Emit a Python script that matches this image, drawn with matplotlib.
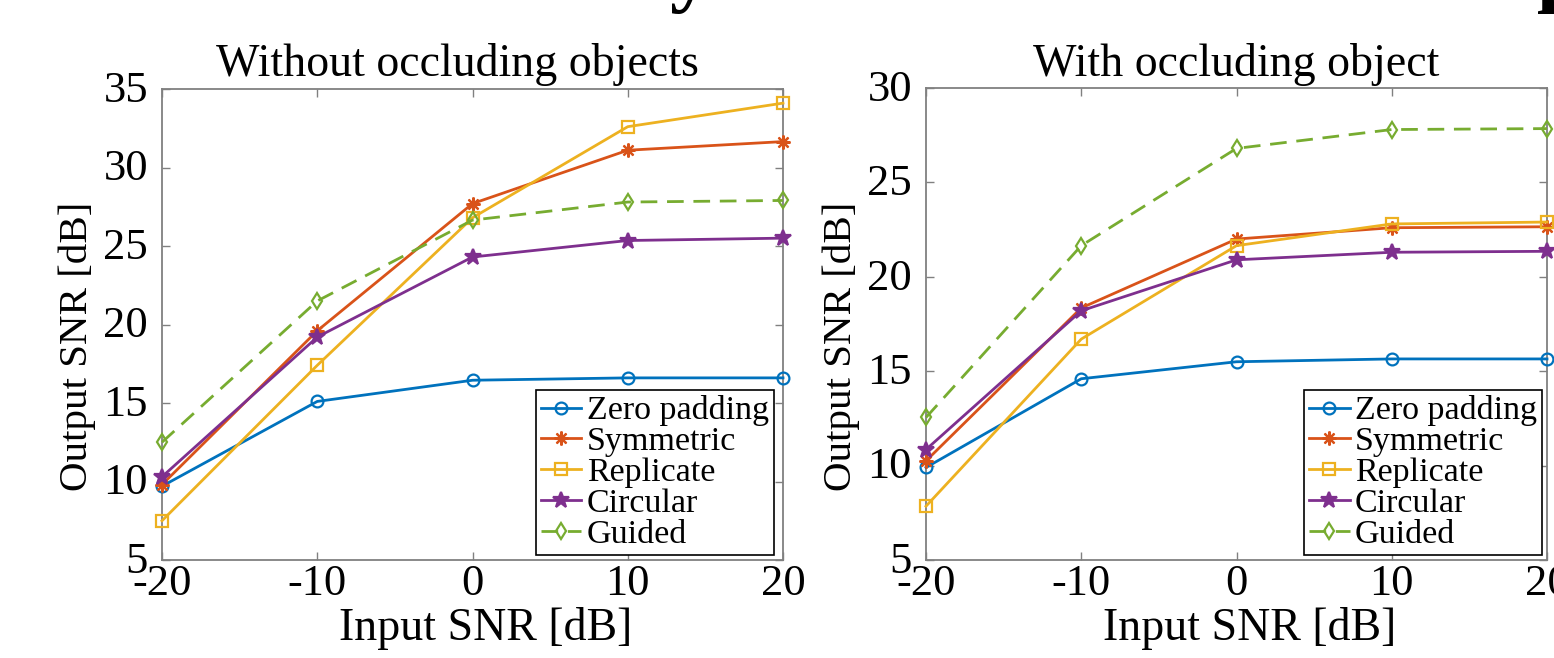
import matplotlib
matplotlib.use("Agg")
import matplotlib.pyplot as plt
import matplotlib.transforms as mtransforms

plt.rcParams['font.family'] = ['Liberation Serif', 'DejaVu Serif']

input_snr = [-20, -10, 0, 10, 20]
series_names = ["Zero padding", "Symmetric", "Replicate", "Circular", "Guided"]

# Without occluding objects
left_zero = [9.7, 15.1, 16.45, 16.6, 16.6]
left_sym = [9.8, 19.6, 27.7, 31.1, 31.65]
left_rep = [7.5, 17.4, 26.8, 32.6, 34.1]
left_circ = [10.3, 19.2, 24.3, 25.35, 25.5]
left_guided = [12.5, 21.5, 26.65, 27.8, 27.9]

# With occluding object
right_zero = [9.9, 14.6, 15.5, 15.65, 15.65]
right_sym = [10.25, 18.35, 22.0, 22.6, 22.65]
right_rep = [7.85, 16.7, 21.65, 22.8, 22.9]
right_circ = [10.85, 18.2, 20.9, 21.3, 21.35]
right_guided = [12.55, 21.65, 26.8, 27.8, 27.85]

titles = ["Without occluding objects", "With occluding object"]
xlabel = "Input SNR [dB]"
ylabel = "Output SNR [dB]"
xticks = [-20, -10, 0, 10, 20]
left_yticks = [5, 10, 15, 20, 25, 30, 35]
right_yticks = [5, 10, 15, 20, 25, 30]

colors = ["#0072BD", "#D95319", "#EDB120", "#7E2F8E", "#77AC30"]
markers = ["o", (8, 2, 0), "s", "*", "d"]
msizes = [8.5, 10, 8, 12, 8.5]
styles = ["-", "-", "-", "-", "--"]

fig = plt.figure(figsize=(15.54, 6.58), dpi=100)
W, H = 1554, 658

def make_axes(x0, x1, y0, y1):
    return fig.add_axes([x0 / W, 1 - y1 / H, (x1 - x0) / W, (y1 - y0) / H])

ax1 = make_axes(162, 783, 89, 560)
ax2 = make_axes(926, 1547, 88, 560)

panels = [
    (ax1, [left_zero, left_sym, left_rep, left_circ, left_guided], left_yticks, (0.985, 0.011), 0.476),
    (ax2, [right_zero, right_sym, right_rep, right_circ, right_guided], right_yticks, (0.992, 0.011), 0.5),
]

shift_up = mtransforms.ScaledTranslation(0, 2 / 72, fig.dpi_scale_trans)

for i, (ax, data, yt, anchor, tx) in enumerate(panels):
    for vals, name, c, m, ms, ls in zip(data, series_names, colors, markers, msizes, styles):
        filled = m == "*"
        line, = ax.plot(input_snr, vals, linestyle=ls, color=c, lw=2.0,
                        marker=m, markersize=ms,
                        markerfacecolor=c if filled else "none",
                        markeredgecolor=c, markeredgewidth=1.6, label=name,
                        clip_on=False, zorder=3)
        if ls == "--":
            line.set_dashes((6, 3.5))
    ax.set_xlim(-20, 20)
    ax.set_ylim(yt[0], yt[-1])
    ax.set_xticks(xticks)
    ax.set_xticklabels([str(v) for v in xticks])
    ax.set_yticks(yt)
    ax.set_yticklabels([str(v) for v in yt])
    ax.tick_params(direction="in", top=True, right=True, length=6, width=1,
                   color="#808080", labelsize=32, labelcolor="black")
    ax.tick_params(axis="x", pad=3)
    ax.tick_params(axis="y", pad=10)
    for lab in ax.get_yticklabels():
        lab.set_transform(lab.get_transform() + shift_up)
    for s in ax.spines.values():
        s.set_color("#808080")
        s.set_linewidth(1.3)
    t = ax.set_title(titles[i], fontsize=33, pad=9)
    t.set_x(tx)
    ax.set_xlabel(xlabel, fontsize=33, labelpad=2)
    ax.xaxis.label.set_x(0.521)
    ax.set_ylabel(ylabel, fontsize=29.5, labelpad=5)
    ax.yaxis.label.set_y(0.453)
    leg = ax.legend(loc="lower right", bbox_to_anchor=anchor, borderaxespad=0,
                    fontsize=24.5, frameon=True, fancybox=False, framealpha=1,
                    edgecolor="black", labelspacing=0.0, handlelength=1.2,
                    handletextpad=0.15, borderpad=0.15)
    leg.get_frame().set_linewidth(1.2)

# fragments of the cropped slide heading above the charts
fig.text(690 / W, 1 + 4 / H, "y", fontsize=60, fontweight="bold", ha="center", va="baseline")
fig.text(1560 / W, 1 + 4 / H, "p", fontsize=60, fontweight="bold", ha="center", va="baseline")

fig.savefig("out.png", dpi=100)
